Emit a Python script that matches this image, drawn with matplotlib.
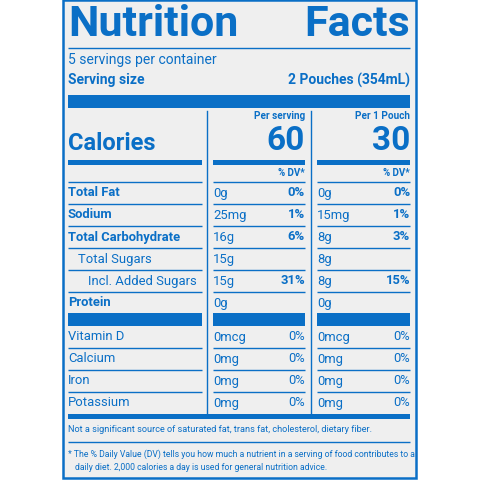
import matplotlib
matplotlib.use("Agg")
import matplotlib.pyplot as plt
from matplotlib.patches import Rectangle

BLUE = "#0a6fc6"
BG = "#efefef"

title = ["Nutrition", "Facts"]
servings = "5 servings per container"
serving_size = ("Serving size", "2 Pouches (354mL)")
col_heads = ["Per serving", "Per 1 Pouch"]
calories = ["60", "30"]
nutrients = ["Total Fat", "Sodium", "Total Carbohydrate", "Total Sugars", "Incl. Added Sugars", "Protein"]
nut_bold = [True, True, True, False, False, True]
nut_indent = [0, 0, 0, 10, 20, 0]
amt1 = ["0g", "25mg", "16g", "15g", "15g", "0g"]
dv1 = ["0%", "1%", "6%", "", "31%", ""]
amt2 = ["0g", "15mg", "8g", "8g", "8g", "0g"]
dv2 = ["0%", "1%", "3%", "", "15%", ""]
vitamins = ["Vitamin D", "Calcium", "Iron", "Potassium"]
vamt1 = ["0mcg", "0mg", "0mg", "0mg"]
vdv1 = ["0%", "0%", "0%", "0%"]
vamt2 = ["0mcg", "0mg", "0mg", "0mg"]
vdv2 = ["0%", "0%", "0%", "0%"]
note1 = "Not a significant source of saturated fat, trans fat, cholesterol, dietary fiber."
note2 = ["* The % Daily Value (DV) tells you how much a nutrient in a serving of food contributes to a",
         "daily diet. 2,000 calories a day is used for general nutrition advice."]

fig = plt.figure(figsize=(4.8, 4.8), dpi=100)
ax = fig.add_axes([0, 0, 1, 1])
ax.set_xlim(0, 480); ax.set_ylim(480, 0); ax.axis("off")
FONT = "Roboto"
BODY = 9.4

def T(x, y, s, size, bold=False, ha="left"):
    ax.text(x, y, s, fontsize=size, fontweight="bold" if bold else "normal",
            ha=ha, va="center", color=BLUE, family=FONT)

def bar(x0, x1, y0, y1):
    ax.add_patch(Rectangle((x0, y0), x1 - x0, y1 - y0, color=BLUE, lw=0))

def hl(x0, x1, y, lw=1.0):
    ax.plot([x0, x1], [y, y], color=BLUE, lw=lw, solid_capstyle="butt")

ax.add_patch(Rectangle((63, 0), 353, 478, facecolor=BG, edgecolor=BLUE, lw=1.8))
T(68, 24, title[0], 31, True)
T(410, 24, title[1], 31, True, ha="right")
hl(68, 410, 48)
T(68, 60, servings, 10)
T(68, 80, serving_size[0], 10, True)
T(410, 80, serving_size[1], 10, True, ha="right")
bar(68, 410, 95, 108)

cols = [(213, 305), (317, 410)]
for xv in (207, 311):
    ax.plot([xv, xv], [111, 414], color=BLUE, lw=1.0)

T(68, 143, "Calories", 17, True)
for (a, b), h, c in zip(cols, col_heads, calories):
    T(b, 116, h, 7.2, True, ha="right")
    T(b, 141, c, 24, True, ha="right")
    bar(a, b, 160, 165)
    T(b, 173, "% DV*", 7, True, ha="right")
bar(68, 202, 160, 165)
segs = [(68, 202)] + cols
for a, b in segs:
    hl(a, b, 182)

for i, name in enumerate(nutrients):
    y = 193 + 22 * i
    T(68 + nut_indent[i], y, name, BODY, nut_bold[i])
    for (a, b), am, dv in ((cols[0], amt1[i], dv1[i]), (cols[1], amt2[i], dv2[i])):
        T(a, y, am, BODY)
        if dv:
            T(b, y, dv, BODY, True, ha="right")
    if i < len(nutrients) - 1:
        for a, b in segs:
            hl(a, b, y + 11)
for a, b in segs:
    bar(a, b, 313, 326)

for i, name in enumerate(vitamins):
    y = 337 + 22 * i
    T(68, y, name, BODY)
    for (a, b), am, dv in ((cols[0], vamt1[i], vdv1[i]), (cols[1], vamt2[i], vdv2[i])):
        T(a, y, am, BODY)
        T(b, y, dv, BODY, ha="right")
    if i < len(vitamins) - 1:
        for a, b in segs:
            hl(a, b, y + 11)
bar(68, 410, 414, 419)
T(68, 430, note1, 6.6)
hl(68, 410, 442)
T(68, 454, note2[0], 6.2)
T(75, 467, note2[1], 6.2)

fig.savefig("out.png", dpi=100, facecolor="white")
